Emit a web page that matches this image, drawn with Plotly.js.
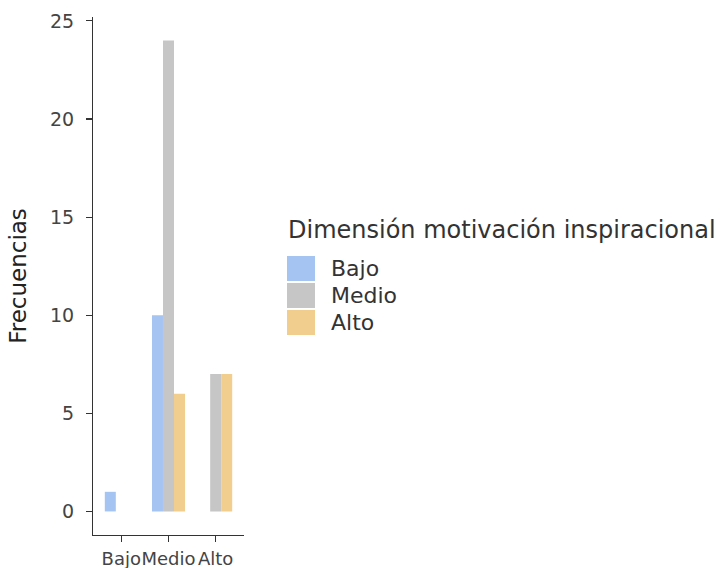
<!DOCTYPE html>
<html>
<head>
<meta charset="utf-8">
<script src="https://cdn.plot.ly/plotly-3.0.1.min.js"></script>
<style>html,body{margin:0;padding:0;background:#fff;}#chart{width:726px;height:568px;}</style>
</head>
<body>
<div id="chart"></div>
<script>
const categories = ['Bajo', 'Medio', 'Alto'];
const seriesNames = ['Bajo', 'Medio', 'Alto'];
const bajoValues = [1, 10, 0];
const medioValues = [0, 24, 7];
const altoValues = [0, 6, 7];
const yTickValues = [0, 5, 10, 15, 20, 25];
const legendTitle = 'Dimensión motivación inspiracional';
const yTitle = 'Frecuencias';

const seriesValues = [bajoValues, medioValues, altoValues];
const colors = ['#a6c4f2', '#c6c6c6', '#f1cd8e'];
const FONT = '"DejaVu Sans", "Liberation Sans", Arial, sans-serif';

// plot panel in pixels
const L = 93, R = 244, T = 17, B = 535, W = 726, H = 568;
const px2x = p => (p - L) / (R - L);
const px2y = p => (B - p) / (B - T);

const traces = seriesNames.map((name, i) => ({
  type: 'bar',
  name: name,
  x: categories,
  y: seriesValues[i],
  marker: { color: colors[i], line: { width: 0 } },
  showlegend: false,
  hoverinfo: 'skip'
}));

// manual legend (ggplot-style large keys)
const shapes = [];
const annotations = [{
  xref: 'paper', yref: 'paper', x: px2x(286), y: px2y(230),
  xanchor: 'left', yanchor: 'middle', showarrow: false,
  text: legendTitle, font: { family: FONT, size: 24, color: '#333333' }
}];
const keyTop = 255, keyH = 27;
seriesNames.forEach((name, i) => {
  const y0 = keyTop + i * keyH;
  shapes.push({
    type: 'rect', xref: 'paper', yref: 'paper',
    x0: px2x(287), x1: px2x(315), y0: px2y(y0 + 1), y1: px2y(y0 + keyH - 1),
    fillcolor: colors[i], line: { width: 0 }
  });
  annotations.push({
    xref: 'paper', yref: 'paper', x: px2x(329), y: px2y(y0 + keyH / 2),
    xanchor: 'left', yanchor: 'middle', showarrow: false,
    text: name, font: { family: FONT, size: 22, color: '#333333' }
  });
});

const layout = {
  width: W, height: H,
  margin: { l: L, r: W - R, t: T, b: H - B, pad: 0 },
  paper_bgcolor: '#ffffff', plot_bgcolor: '#ffffff',
  barmode: 'group', bargap: 0.3, bargroupgap: 0,
  font: { family: FONT, color: '#333333' },
  showlegend: false,
  xaxis: {
    type: 'category', range: [-0.6, 2.6], fixedrange: true,
    showgrid: false, zeroline: false,
    showline: true, linecolor: '#333333', linewidth: 1.1,
    ticks: 'outside', ticklen: 6, tickwidth: 1.1, tickcolor: '#333333',
    tickangle: 0, ticklabelstandoff: 1, ticklabeloverflow: 'allow',
    tickfont: { family: FONT, size: 18, color: '#444444' }
  },
  yaxis: {
    range: [-1.2, 25.2], fixedrange: true,
    tickvals: yTickValues, ticktext: yTickValues.map(String),
    showgrid: false, zeroline: false,
    showline: true, linecolor: '#333333', linewidth: 1.1,
    ticks: 'outside', ticklen: 6, tickwidth: 1.1, tickcolor: '#333333',
    ticklabelstandoff: 8,
    tickfont: { family: FONT, size: 19, color: '#444444' },
    title: { text: yTitle, standoff: 16, font: { family: FONT, size: 23, color: '#222222' } }
  },
  shapes: shapes,
  annotations: annotations
};

Plotly.newPlot('chart', traces, layout, { staticPlot: true, displayModeBar: false });
</script>
</body>
</html>
